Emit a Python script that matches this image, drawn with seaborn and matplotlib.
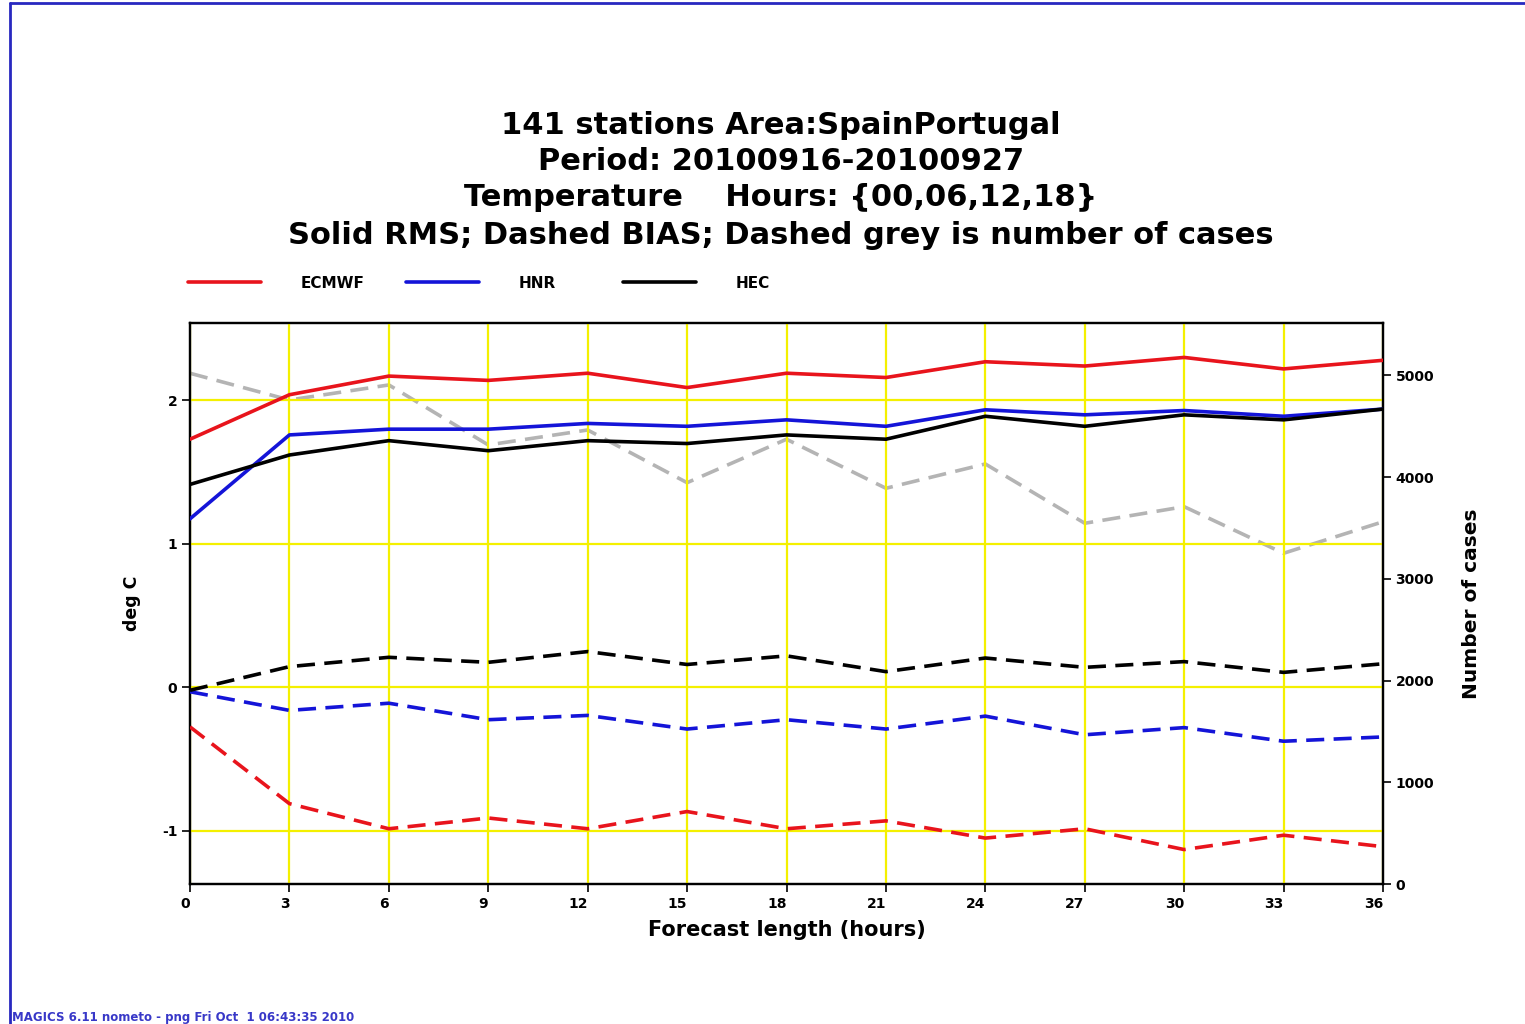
import matplotlib
matplotlib.use("Agg")
import matplotlib.pyplot as plt
import seaborn as sns
from matplotlib.lines import Line2D

steps = [0, 3, 6, 9, 12, 15, 18, 21, 24, 27, 30, 33, 36]

rms_ecmwf = [1.73, 2.04, 2.17, 2.14, 2.19, 2.09, 2.19, 2.16, 2.27, 2.24, 2.30, 2.22, 2.28]
rms_hnr = [1.175, 1.76, 1.80, 1.80, 1.84, 1.82, 1.865, 1.82, 1.935, 1.90, 1.93, 1.89, 1.94]
rms_hec = [1.415, 1.62, 1.72, 1.65, 1.72, 1.70, 1.76, 1.73, 1.89, 1.82, 1.90, 1.865, 1.94]

bias_ecmwf = [-0.275, -0.81, -0.985, -0.91, -0.985, -0.865, -0.985, -0.93, -1.05, -0.985, -1.13, -1.03, -1.11]
bias_hnr = [-0.03, -0.16, -0.11, -0.225, -0.195, -0.29, -0.225, -0.29, -0.20, -0.33, -0.28, -0.375, -0.345]
bias_hec = [-0.02, 0.145, 0.21, 0.175, 0.25, 0.16, 0.22, 0.11, 0.205, 0.14, 0.18, 0.105, 0.165]

n_cases = [5022, 4759, 4907, 4317, 4464, 3946, 4373, 3891, 4130, 3547, 3710, 3252, 3562]

models = ["ECMWF", "HNR", "HEC"]
colors = ["#e8141c", "#1414d8", "#000000"]
title_lines = [
    "141 stations Area:SpainPortugal",
    "Period: 20100916-20100927",
    "Temperature    Hours: {00,06,12,18}",
    "Solid RMS; Dashed BIAS; Dashed grey is number of cases",
]
left_ticks = [-1, 0, 1, 2]
right_ticks = [0, 1000, 2000, 3000, 4000, 5000]

sns.set_theme(style="white")
plt.rcParams["font.family"] = ["DejaVu Sans"]
plt.rcParams.update({"text.color": "black", "axes.labelcolor": "black",
                     "xtick.color": "black", "ytick.color": "black"})

fig = plt.figure(figsize=(15.25, 10.24), dpi=100)
ax = fig.add_axes([190 / 1525, 1 - 884 / 1024, (1383 - 190) / 1525, (884 - 323) / 1024])
ax2 = ax.twinx()

yellow = "#f4f000"
for s in steps:
    ax.axvline(s, color=yellow, lw=1.6, zorder=0)
for t in left_ticks:
    ax.axhline(t, color=yellow, lw=1.6, zorder=0)

dash = [5, 2.6]
# number of cases (right axis)
sns.lineplot(x=steps, y=n_cases, ax=ax2, color="#b4b4b4", lw=2.6,
             estimator=None, zorder=1)
ax2.lines[-1].set_dashes(dash)

rms = [rms_ecmwf, rms_hnr, rms_hec]
bias = [bias_ecmwf, bias_hnr, bias_hec]
for m, c, r, b in zip(models, colors, rms, bias):
    sns.lineplot(x=steps, y=r, ax=ax, color=c, lw=2.6, estimator=None, zorder=3)
    sns.lineplot(x=steps, y=b, ax=ax, color=c, lw=2.6, estimator=None, zorder=3)
    ax.lines[-1].set_dashes(dash)

ax.set_zorder(ax2.get_zorder() + 1)
ax.patch.set_visible(False)

ax.set_xlim(0, 36)
ax.set_ylim(-1.37, 2.54)
ax2.set_ylim(0, 5516)
ax.set_xticks(steps)
ax.set_xticklabels([str(s) for s in steps], ha="right")
ax.set_yticks(left_ticks)
ax.set_yticklabels([str(t) for t in left_ticks])
ax2.set_yticks(right_ticks)
ax2.set_yticklabels([str(t) for t in right_ticks])

for a in (ax, ax2):
    for sp in a.spines.values():
        sp.set_color("black")
        sp.set_linewidth(1.6)
    a.grid(False)
ax.tick_params(axis="both", which="both", direction="out", length=6, width=1.2,
               color="black", labelsize=10, pad=3, bottom=True, left=True)
ax2.tick_params(axis="y", direction="out", length=6, width=1.2, color="black",
                labelsize=10, pad=3, right=True)
for lab in ax.get_xticklabels() + ax.get_yticklabels() + ax2.get_yticklabels():
    lab.set_fontweight("bold")

ax.set_xlabel("Forecast length (hours)", fontsize=15, fontweight="bold", labelpad=7)
ax.set_ylabel("deg C", fontsize=12.5, fontweight="bold", labelpad=15)
ax2.set_ylabel("Number of cases", fontsize=14.5, fontweight="bold", labelpad=20)

ys = [126, 161, 198, 235]
for t, y in zip(title_lines, ys):
    fig.text(781 / 1525, 1 - y / 1024, t, ha="center", va="center",
             fontsize=22, fontweight="heavy")

for i, (m, c) in enumerate(zip(models, colors)):
    fig.legend([Line2D([], [], color=c, lw=2.6)], [m], loc="center left",
               bbox_to_anchor=((188 + i * 217.5) / 1525, 1 - 283 / 1024),
               frameon=False, handlelength=4.8, handletextpad=2.6,
               borderpad=0, borderaxespad=0, prop={"weight": "bold", "size": 11})

fig.text(12 / 1525, 1 - 1017 / 1024, "MAGICS 6.11 nometo - png Fri Oct  1 06:43:35 2010",
         ha="left", va="center", fontsize=8.5, fontweight="bold", color="#3838c8")

border = "#2828c0"
fig.add_artist(Line2D([10 / 1525, 10 / 1525], [0, 1 - 3 / 1024], color=border, lw=2,
                      transform=fig.transFigure))
fig.add_artist(Line2D([10 / 1525, 1], [1 - 3 / 1024, 1 - 3 / 1024], color=border, lw=2,
                      transform=fig.transFigure))

fig.savefig("out.png", dpi=100, facecolor="white")
